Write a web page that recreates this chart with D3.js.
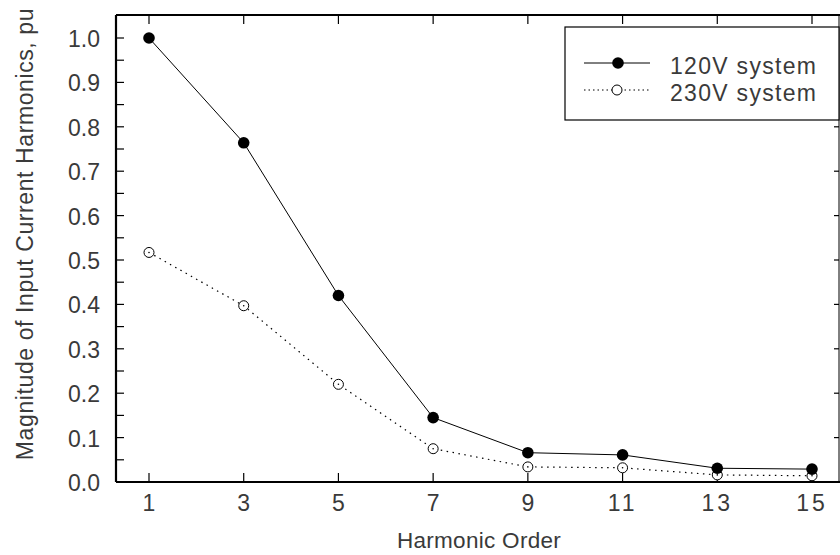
<!DOCTYPE html>
<html><head><meta charset="utf-8">
<script src="https://cdn.jsdelivr.net/npm/d3@7"></script>
<style>body{margin:0;background:#fff}svg{display:block}text{font-family:"Liberation Sans",Arial,sans-serif;fill:#3a3a3a}</style>
</head><body>
<svg id="c" width="840" height="555"></svg>
<script>
const harmonics = [1, 3, 5, 7, 9, 11, 13, 15];
const v120 = [1.0, 0.764, 0.42, 0.145, 0.066, 0.061, 0.031, 0.029];
const v230 = [0.517, 0.397, 0.22, 0.075, 0.034, 0.032, 0.016, 0.014];
const yMajor = [0, 0.1, 0.2, 0.3, 0.4, 0.5, 0.6, 0.7, 0.8, 0.9, 1.0];
const yMinor = [0.05, 0.15, 0.25, 0.35, 0.45, 0.55, 0.65, 0.75, 0.85, 0.95];
const seriesNames = ["120V system", "230V system"];

const svg = d3.select("#c");
const L = 116, R = 839, T = 15, B = 482;
const x = d3.scaleLinear().domain([1, 15]).range([149, 812]);
const y = d3.scaleLinear().domain([0, 1]).range([482, 38]);

// frame
const g = svg.append("g");
g.append("line").attr("x1", L).attr("x2", L).attr("y1", T).attr("y2", B).attr("stroke", "#000").attr("stroke-width", 2.2);
g.append("line").attr("x1", L).attr("x2", R + 1).attr("y1", B).attr("y2", B).attr("stroke", "#000").attr("stroke-width", 2.2);
g.append("line").attr("x1", L).attr("x2", R + 1).attr("y1", T).attr("y2", T).attr("stroke", "#000").attr("stroke-width", 2);
g.append("line").attr("x1", R).attr("x2", R).attr("y1", T).attr("y2", B).attr("stroke", "#000").attr("stroke-width", 1);

// left ticks
g.selectAll(".ly").data(yMajor.concat(yMinor)).enter().append("line")
  .attr("x1", L).attr("x2", L + 8).attr("y1", d => y(d)).attr("y2", d => y(d))
  .attr("stroke", "#000").attr("stroke-width", 1.2);
// right ticks
g.selectAll(".ry").data(yMajor).enter().append("line")
  .attr("x1", R - 5).attr("x2", R).attr("y1", d => y(d)).attr("y2", d => y(d))
  .attr("stroke", "#000").attr("stroke-width", 1.2);
// bottom & top ticks
g.selectAll(".bx").data(harmonics).enter().append("line")
  .attr("x1", d => x(d)).attr("x2", d => x(d)).attr("y1", B).attr("y2", B - 9)
  .attr("stroke", "#000").attr("stroke-width", 1.2);
g.selectAll(".tx").data(harmonics).enter().append("line")
  .attr("x1", d => x(d)).attr("x2", d => x(d)).attr("y1", T).attr("y2", T + 9)
  .attr("stroke", "#000").attr("stroke-width", 1.2);

// tick labels
g.selectAll(".yl").data(yMajor).enter().append("text")
  .attr("x", 100).attr("y", d => y(d) + 9).attr("text-anchor", "end")
  .attr("font-size", 23).text(d => d.toFixed(1));
g.selectAll(".xl").data(harmonics).enter().append("text")
  .attr("x", d => x(d)).attr("y", 511).attr("text-anchor", "middle")
  .attr("font-size", 23).attr("letter-spacing", d => d > 9 ? 3 : 0).text(d => d);

// axis titles
svg.append("text").attr("x", 479).attr("y", 548).attr("text-anchor", "middle")
  .attr("font-size", 22.5).attr("letter-spacing", 0.3).text("Harmonic Order");
svg.append("text").attr("transform", "translate(33,234) rotate(-90)").attr("text-anchor", "middle")
  .attr("font-size", 23).attr("letter-spacing", 0.6).text("Magnitude of Input Current Harmonics, pu");

// lines
const line = d3.line().x((d, i) => x(harmonics[i])).y(d => y(d));
svg.append("path").datum(v120).attr("d", line).attr("fill", "none").attr("stroke", "#000").attr("stroke-width", 1);
svg.append("path").datum(v230).attr("d", line).attr("fill", "none").attr("stroke", "#000").attr("stroke-width", 1.2).attr("stroke-dasharray", "1.5,4.5");

svg.selectAll(".m230").data(v230).enter().append("circle")
  .attr("cx", (d, i) => x(harmonics[i])).attr("cy", d => y(d)).attr("r", 5)
  .attr("fill", "#fff").attr("stroke", "#000").attr("stroke-width", 1);
svg.selectAll(".m230d").data(v230).enter().append("circle")
  .attr("cx", (d, i) => x(harmonics[i])).attr("cy", d => y(d)).attr("r", 0.8).attr("fill", "#000");
svg.selectAll(".m120").data(v120).enter().append("circle")
  .attr("cx", (d, i) => x(harmonics[i])).attr("cy", d => y(d)).attr("r", 5.8)
  .attr("fill", "#000");

// legend
const lg = svg.append("g");
lg.append("rect").attr("x", 565).attr("y", 27).attr("width", 274).attr("height", 93)
  .attr("fill", "#fff").attr("stroke", "#000").attr("stroke-width", 1.2);
const ly = [63, 90];
lg.append("line").attr("x1", 584).attr("x2", 650).attr("y1", ly[0]).attr("y2", ly[0]).attr("stroke", "#000").attr("stroke-width", 1);
lg.append("circle").attr("cx", 618).attr("cy", ly[0]).attr("r", 5.8).attr("fill", "#000");
lg.append("line").attr("x1", 584).attr("x2", 650).attr("y1", ly[1]).attr("y2", ly[1]).attr("stroke", "#000").attr("stroke-width", 1.2).attr("stroke-dasharray", "1.5,3");
lg.append("circle").attr("cx", 617).attr("cy", ly[1]).attr("r", 5).attr("fill", "#fff").attr("stroke", "#000");
lg.selectAll(".lt").data(seriesNames).enter().append("text")
  .attr("x", 670).attr("y", (d, i) => ly[i] + 11).attr("font-size", 23).attr("letter-spacing", 1.3).text(d => d);
</script>
</body></html>
